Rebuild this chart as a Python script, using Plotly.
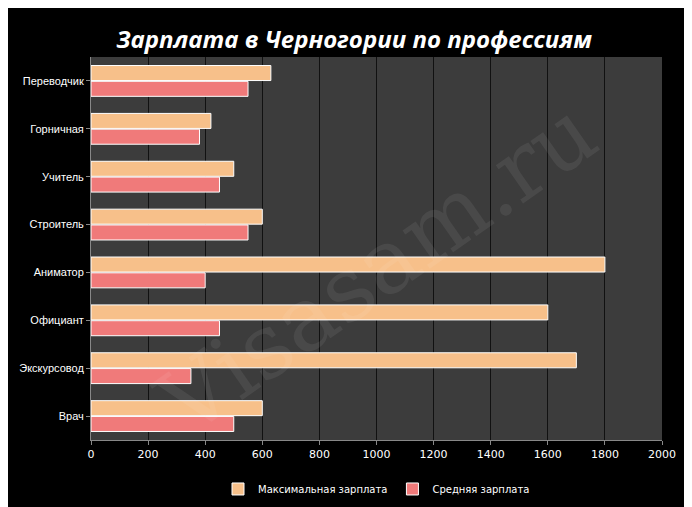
import plotly.graph_objects as go

categories = ["Врач", "Экскурсовод", "Официант", "Аниматор", "Строитель", "Учитель", "Горничная", "Переводчик"]
max_salary = [600, 1700, 1600, 1800, 600, 500, 420, 630]
avg_salary = [500, 350, 450, 400, 550, 450, 380, 550]
x_ticks = [0, 200, 400, 600, 800, 1000, 1200, 1400, 1600, 1800, 2000]

fig = go.Figure()
fig.add_trace(go.Bar(y=categories, x=avg_salary, orientation="h", name="Средняя зарплата",
                     marker=dict(color="#f07a7a", line=dict(color="#ffffff", width=1))))
fig.add_trace(go.Bar(y=categories, x=max_salary, orientation="h", name="Максимальная зарплата",
                     marker=dict(color="#f7c08a", line=dict(color="#ffffff", width=1))))

fig.update_layout(
    width=692, height=507,
    paper_bgcolor="black", plot_bgcolor="#3c3c3c",
    barmode="group", bargap=0.34, bargroupgap=0.05,
    margin=dict(l=83, r=38, t=49, b=70),
    font=dict(family="DejaVu Sans", color="white", size=11),
    title=dict(text="<b><i>Зарплата в Черногории по профессиям</i></b>", x=0.5, y=0.955,
               xanchor="center", font=dict(size=24, color="white", family="Open Sans")),
    xaxis=dict(range=[0, 2000], tickvals=x_ticks, showgrid=True, gridcolor="#111111",
               gridwidth=1, zeroline=False, ticks="outside", tickcolor="#888", ticklen=4,
               showline=True, linecolor="#888", tickfont=dict(size=11)),
    yaxis=dict(showgrid=False, ticks="outside", tickcolor="#888", ticklen=4, automargin=False,
               showline=True, linecolor="#888", tickfont=dict(size=11, family="Liberation Sans")),
    legend=dict(orientation="h", x=0.5, xanchor="center", y=-0.09, yanchor="top",
                traceorder="reversed", font=dict(size=10)),
    annotations=[dict(text="Visasam.ru", x=0.5, y=0.45, xref="paper", yref="paper",
                      showarrow=False, textangle=-35, font=dict(size=90, color="rgba(255,255,255,0.07)",
                                                                family="DejaVu Serif"))],
)
fig.write_html("out.html")
